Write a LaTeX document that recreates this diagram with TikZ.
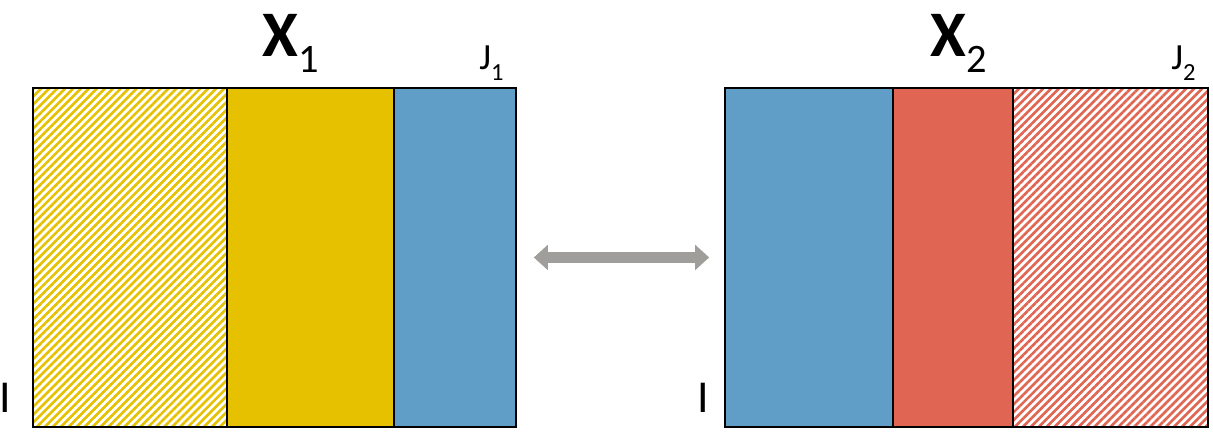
\documentclass[tikz,border=0pt]{standalone}
\usepackage{fontspec}
\setmainfont{Carlito}
\usetikzlibrary{arrows.meta,patterns.meta,positioning}

\definecolor{gold}{RGB}{229,193,0}
\definecolor{steel}{RGB}{96,158,200}
\definecolor{brick}{RGB}{224,101,82}
\definecolor{arrowgrey}{RGB}{160,158,154}

\begin{document}
\begin{tikzpicture}[x=0.02cm, y=-0.02cm,
    cell/.style={draw=black, line width=1pt, inner sep=0pt, outer sep=0pt, minimum height=6.78cm},
    hatch/.style={pattern={Lines[angle=45,distance=3.2pt,line width=1.5pt]}, pattern color=#1},
    lbl/.style={inner sep=0pt, anchor=base west},
    swap/.style={draw=arrowgrey, line width=6.2pt,
        {Triangle[width=14pt,length=8pt]}-{Triangle[width=14pt,length=8pt]}}]
    \useasboundingbox (0,0) rectangle (1213,432);

    % first block
    \node[cell, hatch=gold, minimum width=3.88cm, anchor=north west] (x1a) at (33,88) {};
    \node[cell, fill=gold, minimum width=3.34cm, right=0pt of x1a] (x1b) {};
    \node[cell, fill=steel, minimum width=2.44cm, right=0pt of x1b] (x1c) {};

    % second block
    \node[cell, fill=steel, minimum width=3.36cm, anchor=north west] (x2a) at (725,88) {};
    \node[cell, fill=brick, minimum width=2.40cm, right=0pt of x2a] (x2b) {};
    \node[cell, hatch=brick, minimum width=3.90cm, right=0pt of x2b] (x2c) {};

    % labels
    \node[lbl] (x1) at (262,57) {\fontsize{37pt}{40pt}\selectfont\bfseries X\raisebox{-9pt}{\fontsize{23pt}{25pt}\selectfont\mdseries 1}};
    \node[lbl] (x2) at (930,57) {\fontsize{37pt}{40pt}\selectfont\bfseries X\raisebox{-9pt}{\fontsize{23pt}{25pt}\selectfont\mdseries 2}};
    \node[lbl] (j1) at (479,70) {\fontsize{21pt}{23pt}\selectfont J\raisebox{-6pt}{\fontsize{14pt}{16pt}\selectfont 1}};
    \node[lbl] (j2) at (1171,70) {\fontsize{21pt}{23pt}\selectfont J\raisebox{-6pt}{\fontsize{14pt}{16pt}\selectfont 2}};
    \node[inner sep=0pt, anchor=base] (i1) at (5,412) {\fontsize{26pt}{28pt}\selectfont I};
    \node[inner sep=0pt, anchor=base] (i2) at (703,412) {\fontsize{26pt}{28pt}\selectfont I};

    \draw[swap, shorten <=10.2pt, shorten >=9pt] (x1c.east) -- (x2a.west);
\end{tikzpicture}
\end{document}
